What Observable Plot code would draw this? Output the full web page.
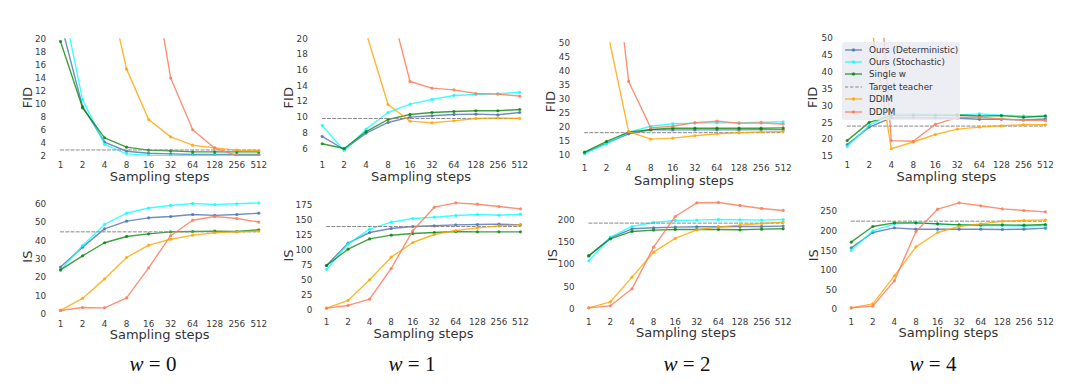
<!DOCTYPE html>
<html><head><meta charset="utf-8">
<script src="https://cdn.jsdelivr.net/npm/d3@7"></script>
<script src="https://cdn.jsdelivr.net/npm/@observablehq/plot@0.6"></script>
<style>
html,body{margin:0;padding:0;background:#fff}
#wrap{position:relative;width:1080px;height:386px;overflow:hidden;font-family:"DejaVu Sans",sans-serif}
#wrap svg{position:absolute;left:0;top:0}
.wlab{position:absolute;font-family:"Liberation Serif","DejaVu Serif",serif;font-size:21px;color:#111;transform:translate(-50%,-50%);white-space:nowrap}
.wlab i{font-style:italic}
#legend{position:absolute;left:842px;top:42px;width:118px;height:78px;background:rgba(234,234,242,0.85);border-radius:3px;font-size:8.8px;color:#333}
#legend .row{position:absolute;left:2px;height:12px;display:flex;align-items:center;white-space:nowrap}
#legend .row svg{position:static;margin-right:6px}
</style></head>
<body><div id="wrap"></div>
<script>
const steps = [1, 2, 4, 8, 16, 32, 64, 128, 256, 512];
const wValues = [0, 1, 2, 4];
const seriesNames = ["Ours (Deterministic)", "Ours (Stochastic)", "Single w", "Target teacher", "DDIM", "DDPM"];

// FID values, one row per w (0,1,2,4)
const fidDet = [
  [22.6, 9.65, 4.2, 2.8, 2.5, 2.4, 2.3, 2.3, 2.3, 2.3],
  [7.57, 5.91, 8.0, 9.35, 10.03, 10.2, 10.37, 10.41, 10.33, 10.62],
  [10.7, 14.2, 17.5, 18.9, 18.9, 18.9, 18.9, 18.9, 19.0, 19.0],
  [18.5, 23.7, 26.4, 26.5, 26.4, 26.3, 26.0, 26.0, 25.8, 26.1]
];
const fidSto = [
  [27.1, 10.7, 3.85, 2.4, 2.2, 2.15, 2.15, 2.15, 2.15, 2.15],
  [8.97, 5.79, 8.5, 10.62, 11.68, 12.28, 12.79, 12.91, 13.0, 13.2],
  [10.4, 13.9, 18.1, 20.2, 21.07, 21.3, 21.4, 21.4, 21.67, 21.8],
  [17.95, 24.2, 27.6, 27.6, 27.4, 27.2, 27.6, 27.2, 27.0, 26.8]
];
const fidSingle = [
  [19.6, 9.45, 4.85, 3.43, 2.97, 2.87, 2.7, 2.7, 2.7, 2.7],
  [6.64, 6.04, 8.2, 9.73, 10.37, 10.62, 10.75, 10.84, 10.84, 11.0],
  [10.95, 14.76, 18.1, 19.05, 19.5, 19.5, 19.5, 19.5, 19.5, 19.6],
  [19.7, 25.1, 27.1, 27.2, 27.2, 27.3, 27.0, 27.1, 26.6, 27.0]
];
const fidDDIM = [
  [120, 70, 30.3, 15.36, 7.66, 5.0, 3.73, 3.32, 2.97, 2.9],
  [90, 45, 20.8, 11.64, 9.52, 9.31, 9.56, 9.86, 9.94, 9.86],
  [120, 55.6, 18.3, 15.6, 15.95, 16.8, 17.5, 17.86, 18.2, 18.3],
  [110, 57.7, 17.3, 19.3, 21.5, 23.1, 23.7, 24.1, 24.4, 24.4]
];
const fidDDPM = [
  [300, 250, 150, 80, 34, 14.0, 6.08, 3.27, 2.15, 2.15],
  [250, 150, 60, 25.4, 14.57, 13.72, 13.5, 13.04, 12.96, 12.7],
  [200, 105, 36.2, 19.6, 20.2, 21.5, 22.0, 21.3, 21.4, 21.0],
  [200, 111, 19.7, 19.5, 24.5, 26.6, 26.6, 26.1, 25.8, 25.6]
];
const fidTeacher = [3.0, 9.86, 17.9, 24.0];

// IS values, one row per w (0,1,2,4)
const isDet = [
  [25.7, 36.5, 46.4, 50.6, 52.4, 53.1, 54.2, 53.7, 54.2, 54.9],
  [74.3, 111.8, 129.7, 136.4, 139.7, 140.9, 142.5, 143.1, 143.7, 142.5],
  [119, 159.9, 179.9, 182.2, 183.6, 184.4, 184.4, 185.1, 185.1, 185.9],
  [157.3, 196.4, 208.3, 204.9, 204.9, 204.9, 204.9, 204.1, 204.9, 207.5]
];
const isSto = [
  [23.9, 37.4, 48.8, 54.9, 57.7, 59.1, 60.2, 59.6, 60.0, 60.5],
  [67.6, 110.7, 135.3, 147, 153.2, 155.4, 158.2, 159.9, 158.7, 160.4],
  [108.6, 161.3, 185.1, 194.1, 198.5, 199.3, 200.7, 200, 199.3, 200.7],
  [150.5, 200.7, 218.5, 221, 218.5, 216, 214.3, 214.3, 212.6, 214.3]
];
const isSingle = [
  [24.2, 31.8, 38.9, 42.3, 43.7, 44.8, 45.0, 45.2, 45.0, 45.9],
  [74.3, 101.7, 119, 125.2, 128, 129.7, 131.4, 130.8, 130.8, 130.8],
  [120.4, 157.6, 174, 177, 178.4, 178.4, 178.4, 177.7, 179.2, 179.9],
  [171.8, 211.7, 221, 221, 218.5, 216, 216, 216, 215.1, 216.8]
];
const isDDIM = [
  [2.2, 8.7, 19.3, 30.9, 37.6, 40.8, 43.0, 44.3, 44.8, 45.2],
  [2.8, 15.7, 50.3, 88.3, 112.9, 126.3, 133, 137.5, 140.9, 142.5],
  [3.7, 17.1, 72.1, 127.9, 158.4, 177.7, 183.6, 188.1, 191.8, 194.8],
  [4.3, 14.5, 85.9, 159.9, 196.4, 211.7, 218.5, 225.3, 227, 228.7]
];
const isDDPM = [
  [2.2, 3.8, 3.6, 9.0, 25.3, 42.7, 51.1, 53.1, 52.0, 50.1],
  [2.8, 7.3, 17.9, 69.3, 132.5, 172.2, 179.4, 177.2, 173.3, 169.4],
  [3.7, 8.2, 46.1, 139, 207.4, 237.9, 238.7, 232, 225.3, 220.8],
  [4.3, 8.5, 73.1, 199, 256, 272.1, 264.5, 256.8, 252.6, 249.1]
];
const isTeacher = [44.8, 139.7, 192.6, 225.3];

// tick labels
const fidTicks = [[2,4,6,8,10,12,14,16,18,20],[6,8,10,12,14,16,18,20],[10,15,20,25,30,35,40,45,50],[15,20,25,30,35,40,45,50]];
const isTicks = [[0,10,20,30,40,50,60],[0,25,50,75,100,125,150,175],[0,50,100,150,200],[0,50,100,150,200,250]];

// styles
const colors = ["#4c72b0", "#00ffff", "#008000", "#888888", "#ffa500", "#fa7f5f"];
const opac = [0.8, 0.75, 0.75, 1, 0.8, 0.85];

// layout (pixel placement of each panel)
const layout = {
  fid: {
    x1: [60, 321.7, 584, 846.7], x512: [258.3, 519.3, 782.7, 1045],
    ref: [[20, 38.3, 2, 156], [20, 38.3, 6, 148.3], [50, 42.3, 10, 154.3], [50, 37.7, 15, 156]],
    domain: [[2, 20], [5, 20], [8, 50], [15, 50]],
    tickY: [164, 164, 167.5, 164], titleY: [176, 176, 180, 176], yTitleX: [27, 288, 550, 812], label: "FID"
  },
  is: {
    x1: [60, 326, 588.3, 850.7], x512: [258.3, 520, 782.7, 1045],
    ref: [[60, 203.3, 0, 314], [175, 205, 0, 309.3], [200, 219.3, 0, 309], [250, 211, 0, 309]],
    domain: null,
    tickY: [323.3, 321, 321, 321], titleY: [334.5, 333, 332, 332], yTitleX: [27, 288, 552, 813], label: "IS"
  }
};

const W = 1080, H = 386, FS = 8.8;
const wrap = document.getElementById("wrap");

function panel(metric, i, seriesArrays, teacher, ticks) {
  const L = layout[metric];
  const kx = (L.x512[i] - L.x1[i]) / 9;
  const left = L.x1[i] - 0.45 * kx, right = L.x512[i] + 0.45 * kx;
  const [v1, p1, v2, p2] = L.ref[i];
  const ky = (p2 - p1) / (v2 - v1);
  let dom;
  if (L.domain) dom = L.domain[i];
  else {
    const all = seriesArrays.flatMap(a => a).concat([teacher]);
    const [mn, mx] = d3.extent(all);
    const pad = (mx - mn) * 0.05;
    dom = [mn - pad, mx + pad];
  }
  const top = p1 + (dom[1] - v1) * ky;
  const bottom = p1 + (dom[0] - v1) * ky;
  const marks = [];
  let si = 0;
  for (let k = 0; k < 6; k++) {
    if (k === 3) {
      const tdata = [{step: steps[0], v: teacher}, {step: steps[steps.length - 1], v: teacher}];
      marks.push(Plot.line(tdata, {x: "step", y: "v", stroke: colors[3], strokeWidth: 1, strokeDasharray: "3.2,2", clip: true}));
      continue;
    }
    const vals = seriesArrays[si++];
    const data = steps.map((s, j) => ({step: s, v: vals[j]}));
    marks.push(Plot.line(data, {x: "step", y: "v", stroke: colors[k], strokeOpacity: opac[k], strokeWidth: 1.4, clip: true}));
    marks.push(Plot.dot(data, {x: "step", y: "v", r: 1.6, fill: colors[k], fillOpacity: opac[k], stroke: "none", clip: true}));
  }
  marks.push(Plot.axisX(steps, {tickSize: 0, tickPadding: L.tickY[i] - 0.345 * FS - bottom, tickFormat: d => String(d), fontSize: FS, label: null}));
  marks.push(Plot.axisY(ticks, {tickSize: 0, tickPadding: 4.5, fontSize: FS, label: null}));
  marks.push(Plot.text([L.label], {text: d => d, frameAnchor: "left", dx: L.yTitleX[i] - left, rotate: -90, fontSize: 13, fill: "#333", textAnchor: "middle", lineAnchor: "middle"}));
  marks.push(Plot.text(["Sampling steps"], {text: d => d, frameAnchor: "bottom", dy: L.titleY[i] - bottom, fontSize: 13, fill: "#333", textAnchor: "middle", lineAnchor: "middle"}));
  const svg = Plot.plot({
    width: W, height: H,
    marginLeft: left, marginRight: W - right, marginTop: top, marginBottom: H - bottom,
    x: {type: "log", base: 2, domain: [Math.pow(2, -0.45), Math.pow(2, 9.45)], axis: null},
    y: {type: "linear", domain: dom, axis: null},
    style: "background:transparent;--plot-background:transparent;font-family:'DejaVu Sans',sans-serif;color:#3a3a3a;position:absolute;left:0;top:0;max-width:none;",
    marks
  });
  wrap.appendChild(svg);
}

for (let i = 0; i < 4; i++) {
  panel("fid", i, [fidDet[i], fidSto[i], fidSingle[i], fidDDIM[i], fidDDPM[i]], fidTeacher[i], fidTicks[i]);
  panel("is", i, [isDet[i], isSto[i], isSingle[i], isDDIM[i], isDDPM[i]], isTeacher[i], isTicks[i]);
}

// legend
const legend = document.createElement("div");
legend.id = "legend";
const rowY = [8, 19.7, 32.3, 45.3, 57.3, 70.3];
seriesNames.forEach((name, k) => {
  const row = document.createElement("div");
  row.className = "row";
  row.style.top = (rowY[k] - 6) + "px";
  const dash = k === 3 ? 'stroke-dasharray="3.2,2" stroke-width="1"' : 'stroke-width="1.4"';
  const dot = k === 3 ? "" : `<circle cx="9.5" cy="6" r="1.7" fill="${colors[k]}" fill-opacity="${opac[k]}"/>`;
  row.innerHTML = `<svg width="19" height="12"><line x1="1" x2="18" y1="6" y2="6" stroke="${colors[k]}" stroke-opacity="${opac[k]}" ${dash}/>${dot}</svg><span>${name}</span>`;
  legend.appendChild(row);
});
wrap.appendChild(legend);

// w labels
const wX = [153, 412, 687, 933];
wValues.forEach((w, i) => {
  const d = document.createElement("div");
  d.className = "wlab";
  d.style.left = wX[i] + "px";
  d.style.top = "364px";
  d.innerHTML = `<i>w</i> = ${w}`;
  wrap.appendChild(d);
});
</script>
</body></html>
